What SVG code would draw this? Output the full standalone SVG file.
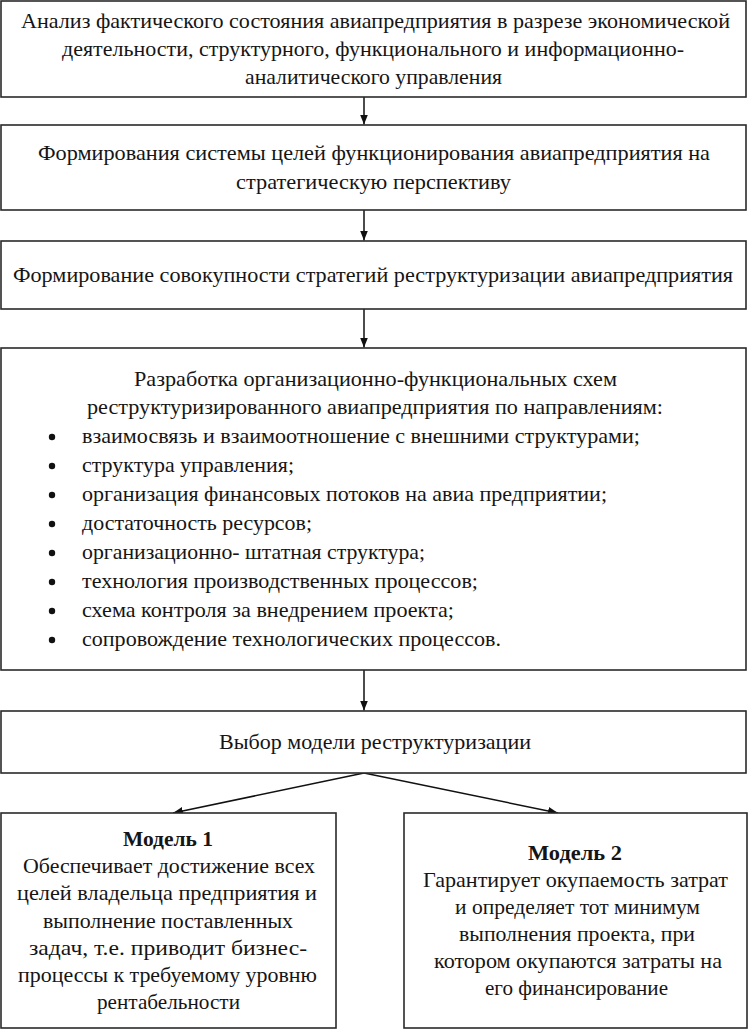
<svg xmlns="http://www.w3.org/2000/svg" width="751" height="1033" viewBox="0 0 751 1033">
<style>
.box{fill:#fff;stroke:#2a2a2a;stroke-width:1.6}
.t{font-family:"Liberation Serif","Times New Roman",serif;font-size:21px;fill:#151515}
.b{font-weight:bold}
.c{stroke:#111;stroke-width:1.5;fill:none}
</style>
<defs>
<marker id="ah" viewBox="0 0 10 8" refX="10" refY="4" markerWidth="10" markerHeight="8" markerUnits="userSpaceOnUse" orient="auto">
<path d="M0,0 L10,4 L0,8 Z" fill="#111"/>
</marker>
</defs>
<rect width="751" height="1033" fill="#fff"/>
<g id="connectors">
<line class="c" x1="364" y1="97" x2="364" y2="124.5" marker-end="url(#ah)"/>
<line class="c" x1="364" y1="210" x2="364" y2="240.5" marker-end="url(#ah)"/>
<line class="c" x1="364" y1="309" x2="364" y2="347.5" marker-end="url(#ah)"/>
<line class="c" x1="364" y1="670" x2="364" y2="710.5" marker-end="url(#ah)"/>
<line class="c" x1="364" y1="773" x2="173" y2="813" marker-end="url(#ah)"/>
<line class="c" x1="364" y1="773" x2="558" y2="813" marker-end="url(#ah)"/>
</g>
<g id="node1">
<rect class="box" x="1" y="1" width="745" height="96"/>
<text class="t" x="21" y="28" textLength="709" lengthAdjust="spacingAndGlyphs">Анализ фактического состояния авиапредприятия в разрезе экономической</text>
<text class="t" x="62" y="56" textLength="622" lengthAdjust="spacingAndGlyphs">деятельности, структурного, функционального и информационно-</text>
<text class="t" x="245" y="84" textLength="257" lengthAdjust="spacingAndGlyphs">аналитического управления</text>
</g>
<g id="node2">
<rect class="box" x="1" y="125" width="745" height="85"/>
<text class="t" x="38" y="160" textLength="672" lengthAdjust="spacingAndGlyphs">Формирования системы целей функционирования авиапредприятия на</text>
<text class="t" x="236" y="189" textLength="275" lengthAdjust="spacingAndGlyphs">стратегическую перспективу</text>
</g>
<g id="node3">
<rect class="box" x="1" y="241" width="745" height="68"/>
<text class="t" x="13" y="282" textLength="720" lengthAdjust="spacingAndGlyphs">Формирование совокупности стратегий реструктуризации авиапредприятия</text>
</g>
<g id="node4">
<rect class="box" x="1" y="348" width="745" height="322"/>
<text class="t" x="134" y="386" textLength="483" lengthAdjust="spacingAndGlyphs">Разработка организационно-функциональных схем</text>
<text class="t" x="87" y="414" textLength="576" lengthAdjust="spacingAndGlyphs">реструктуризированного авиапредприятия по направлениям:</text>
<g fill="#111">
<circle cx="52" cy="437" r="3.2"/>
<circle cx="52" cy="466" r="3.2"/>
<circle cx="52" cy="495" r="3.2"/>
<circle cx="52" cy="524" r="3.2"/>
<circle cx="52" cy="553" r="3.2"/>
<circle cx="52" cy="582" r="3.2"/>
<circle cx="52" cy="611" r="3.2"/>
<circle cx="52" cy="640" r="3.2"/>
</g>
<text class="t" x="82" y="443" textLength="558" lengthAdjust="spacingAndGlyphs">взаимосвязь и взаимоотношение с внешними структурами;</text>
<text class="t" x="82" y="472" textLength="212" lengthAdjust="spacingAndGlyphs">структура управления;</text>
<text class="t" x="82" y="501" textLength="525" lengthAdjust="spacingAndGlyphs">организация финансовых потоков на авиа предприятии;</text>
<text class="t" x="82" y="530" textLength="230" lengthAdjust="spacingAndGlyphs">достаточность ресурсов;</text>
<text class="t" x="82" y="559" textLength="343" lengthAdjust="spacingAndGlyphs">организационно- штатная структура;</text>
<text class="t" x="82" y="588" textLength="396" lengthAdjust="spacingAndGlyphs">технология производственных процессов;</text>
<text class="t" x="82" y="617" textLength="372" lengthAdjust="spacingAndGlyphs">схема контроля за внедрением проекта;</text>
<text class="t" x="82" y="646" textLength="419" lengthAdjust="spacingAndGlyphs">сопровождение технологических процессов.</text>
</g>
<g id="node5">
<rect class="box" x="1" y="711" width="745" height="62"/>
<text class="t" x="219" y="749" textLength="312" lengthAdjust="spacingAndGlyphs">Выбор модели реструктуризации</text>
</g>
<g id="model1">
<rect class="box" x="1" y="813" width="335" height="215"/>
<text class="t b" x="123" y="846" textLength="90" lengthAdjust="spacingAndGlyphs">Модель 1</text>
<text class="t" x="23" y="873" textLength="292" lengthAdjust="spacingAndGlyphs">Обеспечивает достижение всех</text>
<text class="t" x="17" y="900" textLength="300" lengthAdjust="spacingAndGlyphs">целей владельца предприятия и</text>
<text class="t" x="43" y="928" textLength="250" lengthAdjust="spacingAndGlyphs">выполнение поставленных</text>
<text class="t" x="29" y="955" textLength="278" lengthAdjust="spacingAndGlyphs">задач, т.е. приводит бизнес-</text>
<text class="t" x="18" y="982" textLength="299" lengthAdjust="spacingAndGlyphs">процессы к требуемому уровню</text>
<text class="t" x="97" y="1009" textLength="143" lengthAdjust="spacingAndGlyphs">рентабельности</text>
</g>
<g id="model2">
<rect class="box" x="404" y="813" width="343" height="215"/>
<text class="t b" x="528" y="860" textLength="94" lengthAdjust="spacingAndGlyphs">Модель 2</text>
<text class="t" x="423" y="887" textLength="305" lengthAdjust="spacingAndGlyphs">Гарантирует окупаемость затрат</text>
<text class="t" x="455" y="914" textLength="245" lengthAdjust="spacingAndGlyphs">и определяет тот минимум</text>
<text class="t" x="459" y="941" textLength="236" lengthAdjust="spacingAndGlyphs">выполнения проекта, при</text>
<text class="t" x="434" y="968" textLength="288" lengthAdjust="spacingAndGlyphs">котором окупаются затраты на</text>
<text class="t" x="485" y="995" textLength="183" lengthAdjust="spacingAndGlyphs">его финансирование</text>
</g>
</svg>
